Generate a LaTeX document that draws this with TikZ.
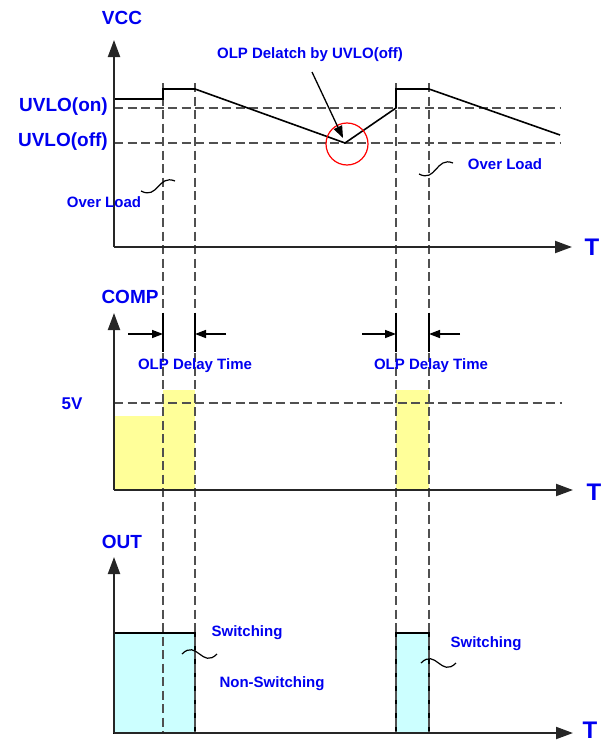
\documentclass[tikz,border=0pt]{standalone}
\usepackage{fontspec}
\setmainfont{Liberation Sans}
\usetikzlibrary{arrows.meta}
\definecolor{lblblue}{HTML}{0000F0}
\definecolor{compyellow}{HTML}{FFFF99}
\definecolor{outcyan}{HTML}{CCFFFF}
\definecolor{guidegray}{HTML}{505050}

\begin{document}
\begin{tikzpicture}[
    x=1pt, y=-1pt,
    axis/.style={-{Triangle[length=17pt,width=12pt]}, line width=2pt, color=black!85},
    guide/.style={dash pattern=on 9pt off 4.5pt, line width=1.1pt, color=guidegray},
    wave/.style={line width=1.6pt, color=black},
    dimarrow/.style={-{Triangle[length=11pt,width=8pt]}, line width=1.5pt},
    dimtick/.style={line width=1.5pt},
    squiggle/.style={line width=1.2pt},
    callout/.style={-{Triangle[length=12pt,width=9pt]}, line width=1.3pt},
    biglbl/.style={font=\fontsize{19}{19}\selectfont\bfseries, text=lblblue, inner sep=0pt},
    smalllbl/.style={font=\fontsize{15}{15}\selectfont\bfseries, text=lblblue, inner sep=0pt},
    tlbl/.style={font=\fontsize{24}{24}\selectfont\bfseries, text=lblblue, inner sep=0pt},
]
\useasboundingbox (0,0) rectangle (603,744);

% ---- Axes origins and ends ----
\coordinate (vccO)   at (114,247);
\coordinate (vccTop) at (114,40);
\coordinate (vccEnd) at (572,247);
\coordinate (cmpO)   at (114,490);
\coordinate (cmpTop) at (114,313);
\coordinate (cmpEnd) at (573,490);
\coordinate (outO)   at (114,733);
\coordinate (outTop) at (114,557);
\coordinate (outEnd) at (573,733);

% ---- Time marks (vertical guides) ----
\coordinate (g1) at (163,83);
\coordinate (g2) at (195,83);
\coordinate (g3) at (396,83);
\coordinate (g4) at (429,83);

% ---- Level lines ----
\coordinate (onL)   at (114,108);
\coordinate (onR)   at (560,108);
\coordinate (offL)  at (114,143);
\coordinate (offR)  at (560,143);
\coordinate (fiveL) at (114,403);
\coordinate (fiveR) at (562,403);

% ---- Fills ----
\fill[compyellow] (cmpO) rectangle (163,416);
\fill[compyellow] (g1 |- cmpO) rectangle (195,390);
\fill[compyellow] (g3 |- cmpO) rectangle (429,390);
\filldraw[fill=outcyan, draw=black, line width=1.5pt] (outO) rectangle (195,633);
\filldraw[fill=outcyan, draw=black, line width=1.5pt] (g3 |- outO) rectangle (429,633);

% ---- Dashed guides ----
\draw[guide] (onL) -- (onR);
\draw[guide] (offL) -- (offR);
\draw[guide] (fiveL) -- (fiveR);
\foreach \g in {g1,g2,g3,g4}
  \draw[guide] (\g) -- (\g |- outO);

% ---- VCC waveform ----
\coordinate (w0) at (114,99);
\coordinate (w1) at (163,99);
\coordinate (w2) at (163,89);
\coordinate (w3) at (195,89);
\coordinate (w4) at (345,143);
\coordinate (w5) at (396,108);
\coordinate (w6) at (396,89);
\coordinate (w7) at (429,89);
\coordinate (w8) at (560,135);
\draw[wave] (w0) -- (w1) -- (w2) -- (w3) -- (w4) -- (w5) -- (w6) -- (w7) -- (w8);

% delatch mark
\node[draw=red, line width=1.2pt, circle, minimum size=42pt, inner sep=0pt] (delCirc) at (347,144) {};
\node[smalllbl] (delatch) at (310,55) {OLP Delatch by UVLO(off)};
\coordinate (dlS) at (312,72);
\coordinate (dlTip) at (343,138);
\draw[callout] (dlS) -- (dlTip);

% ---- OLP delay time marks ----
\coordinate (dimY) at (0,334);
\foreach \g in {g1,g2,g3,g4}
  \draw[dimtick] (\g |- 0,313) -- (\g |- 0,352);
\draw[dimarrow] ([xshift=-35pt]g1 |- dimY) -- (g1 |- dimY);
\draw[dimarrow] ([xshift=31pt]g2 |- dimY) -- (g2 |- dimY);
\draw[dimarrow] ([xshift=-34pt]g3 |- dimY) -- (g3 |- dimY);
\draw[dimarrow] ([xshift=31pt]g4 |- dimY) -- (g4 |- dimY);

% ---- Axes ----
\draw[axis] (vccO) -- (vccTop);
\draw[axis] (vccO) -- (vccEnd);
\draw[axis] (cmpO) -- (cmpTop);
\draw[axis] (cmpO) -- (cmpEnd);
\draw[axis] (outO) -- (outTop);
\draw[axis] (outO) -- (outEnd);

% ---- Labels ----
\node[biglbl] (vccLbl)  at (122,18)  {VCC};
\node[biglbl, anchor=east] (uvloOn)  at (108,107) {UVLO(on)};
\node[biglbl, anchor=east] (uvloOff) at (108,142) {UVLO(off)};
\node[biglbl] (compLbl) at (130,297) {COMP};
\node[font=\fontsize{17}{17}\selectfont\bfseries, text=lblblue, inner sep=0pt] (fiveLbl) at (72,404) {5V};
\node[biglbl] (outLbl)  at (122,542) {OUT};
\node[tlbl] (tVcc) at (592,247) {T};
\node[tlbl] (tCmp) at (594,492) {T};
\node[tlbl] (tOut) at (590,730) {T};

\node[smalllbl] (olA) at (104,202) {Over Load};
\node[smalllbl] (olB) at (505,164) {Over Load};
\node[smalllbl] (dlyA) at (195,366) {OLP Delay Time};
\node[smalllbl] (dlyB) at (431,366) {OLP Delay Time};
\node[smalllbl] (swA) at (247,633) {Switching};
\node[smalllbl] (nswA) at (272,684) {Non-Switching};
\node[smalllbl] (swB) at (486,644) {Switching};

% ---- Squiggles ----
\coordinate (sqA1) at (141,191); \coordinate (sqA2) at (175,181);
\coordinate (sqB1) at (419,174); \coordinate (sqB2) at (453,163);
\coordinate (sqC1) at (182,654); \coordinate (sqC2) at (217,654);
\coordinate (sqD1) at (421,663); \coordinate (sqD2) at (456,663);
\draw[squiggle] (sqA1) .. controls +(17,9) and +(-17,-7) .. (sqA2);
\draw[squiggle] (sqB1) .. controls +(17,9) and +(-17,-7) .. (sqB2);
\draw[squiggle] (sqC1) .. controls +(15,-15) and +(-15,15) .. (sqC2);
\draw[squiggle] (sqD1) .. controls +(15,-15) and +(-15,15) .. (sqD2);
\end{tikzpicture}
\end{document}
